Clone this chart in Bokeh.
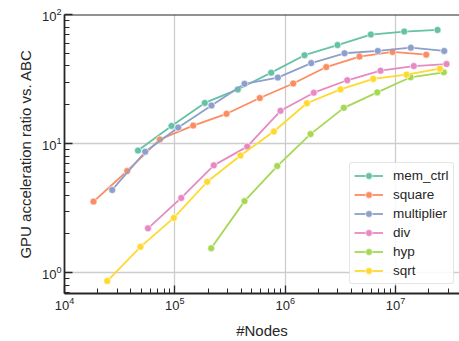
from bokeh.plotting import figure
from bokeh.models import Range1d, FixedTicker, LogTickFormatter, Span, Legend, LegendItem
from bokeh.embed import file_html
from bokeh.resources import INLINE

# ---- data ----
series_names = ["mem_ctrl", "square", "multiplier", "div", "hyp", "sqrt"]
series_colors = ["#66c2a5", "#fc8d62", "#8da0cb", "#e78ac3", "#a6d854", "#ffd92f"]

mem_ctrl_x = [46370, 93280, 186900, 372100, 747000, 1497000, 2981000, 5973000, 11995000, 24040000]
mem_ctrl_y = [8.84, 13.72, 20.67, 26.29, 35.45, 48.38, 57.99, 69.98, 73.8, 75.9]

square_x = [18320, 37010, 73080, 146700, 294000, 589000, 1183000, 2355000, 4718000, 9396000, 18980000]
square_y = [3.56, 6.14, 10.78, 13.80, 17.03, 22.56, 29.21, 39.19, 47.2, 51.3, 48.9]

multiplier_x = [27060, 53880, 107300, 214900, 428000, 857800, 1722000, 3450000, 6912000, 13760000, 27630000]
multiplier_y = [4.38, 8.66, 13.32, 19.74, 29.06, 32.47, 42.04, 50.1, 52.2, 55.3, 52.2]

div_x = [57120, 114200, 225500, 452900, 907400, 1818000, 3650000, 7313000, 14650000, 28990000]
div_y = [2.21, 3.80, 6.79, 9.49, 17.96, 24.81, 30.96, 36.72, 39.89, 41.3]

hyp_x = [213600, 428000, 847000, 1697000, 3400000, 6827000, 13680000, 27400000]
hyp_y = [1.55, 3.59, 6.71, 11.86, 18.93, 24.94, 32.64, 35.64]

sqrt_x = [24380, 48850, 97880, 196500, 393800, 788800, 1571000, 3173000, 6281000, 12585000, 25210000]
sqrt_y = [0.864, 1.588, 2.66, 5.07, 8.10, 12.41, 20.56, 26.29, 31.73, 34.22, 38.04]

x_label = "#Nodes"
y_label = "GPU acceleration ratio vs. ABC"

xs = [mem_ctrl_x, square_x, multiplier_x, div_x, hyp_x, sqrt_x]
ys = [mem_ctrl_y, square_y, multiplier_y, div_y, hyp_y, sqrt_y]

X_MIN, X_MAX = 1e4, 3.80e7
Y_MIN, Y_MAX = 0.6915, 100

FONT = "Liberation Sans"
DARK = "#262626"

p = figure(width=459, height=341, x_axis_type="log", y_axis_type="log",
           x_range=Range1d(X_MIN, X_MAX), y_range=Range1d(Y_MIN, Y_MAX),
           output_backend="svg", toolbar_location=None,
           min_border_left=64, min_border_right=0, min_border_top=14, min_border_bottom=44)
p.outline_line_color = None
p.background_fill_color = "white"
p.border_fill_color = "white"

x_major = [1e4, 1e5, 1e6, 1e7]
x_minor = [m * 10 ** k for k in range(4, 8) for m in range(2, 10) if m * 10 ** k <= X_MAX]
y_major = [1, 10, 100]
y_minor = [m * 10.0 ** k for k in range(-1, 2) for m in range(2, 10) if Y_MIN <= m * 10.0 ** k <= Y_MAX]

xt = FixedTicker(ticks=x_major, minor_ticks=x_minor)
yt = FixedTicker(ticks=y_major, minor_ticks=y_minor)

for ax, t in ((p.xaxis[0], xt), (p.yaxis[0], yt)):
    ax.ticker = t
    ax.formatter = LogTickFormatter()
    ax.axis_line_color = DARK
    ax.axis_line_width = 1.8
    ax.major_tick_line_color = DARK
    ax.minor_tick_line_color = DARK
    ax.major_tick_line_width = 1.3
    ax.minor_tick_line_width = 1.0
    ax.major_tick_in = 8
    ax.major_tick_out = 0
    ax.minor_tick_in = 5
    ax.minor_tick_out = 0
    ax.major_label_text_font = FONT
    ax.major_label_text_font_size = "13px"
    ax.major_label_text_color = DARK
    ax.major_label_standoff = 3
    ax.axis_label_text_font = FONT
    ax.axis_label_text_font_size = "15px"
    ax.axis_label_text_font_style = "normal"
    ax.axis_label_text_color = DARK

p.xaxis.axis_label = x_label
p.yaxis.axis_label = y_label
p.xaxis.axis_label_standoff = 9
p.yaxis.axis_label_standoff = 5

p.xgrid.ticker = xt
p.ygrid.ticker = yt
for g in (p.xgrid[0], p.ygrid[0]):
    g.grid_line_color = "#cccccc"
    g.grid_line_width = 1.3
    g.minor_grid_line_color = None

p.add_layout(Span(location=Y_MAX, dimension="width", line_color=DARK, line_width=1.8))

items = []
for name, color, x, y in zip(series_names, series_colors, xs, ys):
    r1 = p.line(x, y, line_color=color, line_width=1.8)
    r2 = p.scatter(x, y, marker="circle", size=7, fill_color=color, line_color="white", line_width=0.6)
    items.append(LegendItem(label=name, renderers=[r1, r2]))

legend = Legend(items=items, location=(285, 9))
legend.label_text_font = FONT
legend.label_text_font_size = "13.5px"
legend.label_text_color = DARK
legend.glyph_width = 29
legend.glyph_height = 17
legend.label_height = 17
legend.label_standoff = 10
legend.spacing = 2
legend.padding = 4
legend.margin = 0
legend.border_line_color = "#cccccc"
legend.border_line_width = 1
legend.border_radius = 3
legend.background_fill_color = "white"
legend.background_fill_alpha = 0.85
p.add_layout(legend)

open("out.html", "w").write(file_html(p, INLINE))
